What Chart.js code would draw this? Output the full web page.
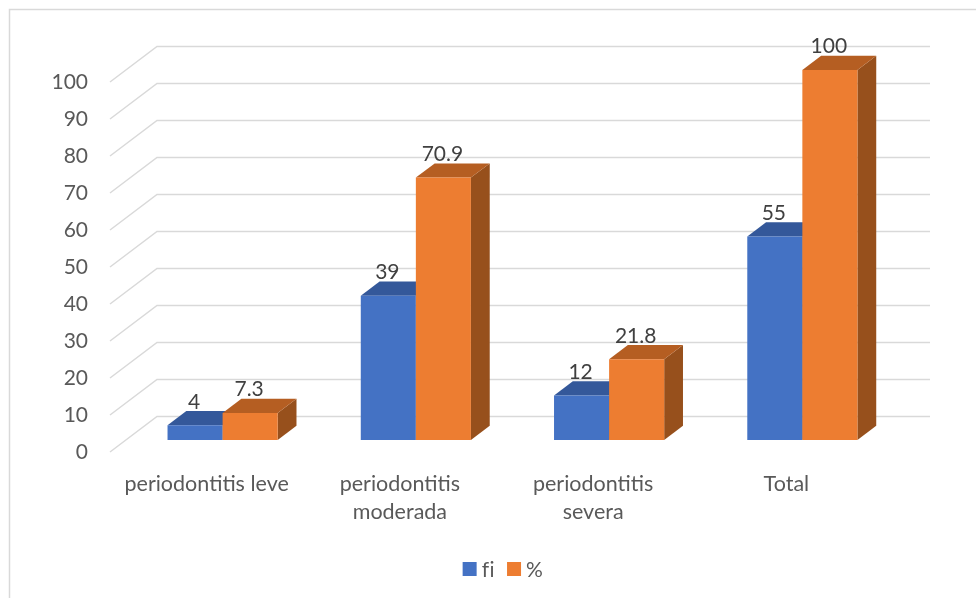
<!DOCTYPE html>
<html>
<head>
<meta charset="utf-8">
<script src="https://cdn.jsdelivr.net/npm/chart.js@4/dist/chart.umd.min.js"></script>
<style>
  html, body { margin: 0; padding: 0; background: #ffffff; }
  #wrap { width: 976px; height: 598px; }
</style>
</head>
<body>
<div id="wrap"><canvas id="c" width="976" height="598"></canvas></div>
<script>
// Categories and series
const categories = [
  'periodontitis leve',
  ['periodontitis', 'moderada'],
  ['periodontitis', 'severa'],
  'Total'
];
const seriesNames = ['fi', '%'];
const fiValues = [4, 39, 12, 55];
const pctValues = [7.3, 70.9, 21.8, 100];
const yTicks = [0, 10, 20, 30, 40, 50, 60, 70, 80, 90, 100];

// Face colours for the 3D columns: front, top, right side
const faceColors = [
  { front: '#4472C4', top: '#34589A', side: '#2C4B84' },
  { front: '#ED7D31', top: '#B55E22', side: '#97501C' }
];

const FONT = 'Lato, "Open Sans", sans-serif';
const TEXT_COLOR = '#595959';
const GRID_COLOR = '#D9D9D9';

// Oblique projection of the floor depth
const DEPTH_DX = 47;
const DEPTH_DY = 35.5;
const BAR_D0 = 0.34;   // front of columns, as a share of floor depth
const BAR_D1 = 0.74;   // back of columns

function proj(x, y, d) {
  return [x + d * DEPTH_DX, y - d * DEPTH_DY];
}

function poly(ctx, pts, color) {
  ctx.beginPath();
  ctx.moveTo(pts[0][0], pts[0][1]);
  for (let i = 1; i < pts.length; i++) ctx.lineTo(pts[i][0], pts[i][1]);
  ctx.closePath();
  ctx.fillStyle = color;
  ctx.fill();
}

const frame3d = {
  id: 'frame3d',
  beforeDraw(chart) {
    const ctx = chart.ctx;
    ctx.save();
    ctx.strokeStyle = GRID_COLOR;
    ctx.lineWidth = 1.5;
    ctx.beginPath();
    ctx.moveTo(9.5, 598);
    ctx.lineTo(9.5, 9.5);
    ctx.lineTo(976, 9.5);
    ctx.stroke();
    ctx.restore();
  },
  beforeDatasetsDraw(chart) {
    // back wall lines and slanted side-wall lines at every tick
    const ctx = chart.ctx;
    const area = chart.chartArea;
    const y = chart.scales.y;
    ctx.save();
    ctx.strokeStyle = GRID_COLOR;
    ctx.lineWidth = 1.5;
    y.ticks.forEach(t => {
      const py = y.getPixelForValue(t.value);
      const back = proj(area.left, py, 1);
      const backR = proj(area.right, py, 1);
      ctx.beginPath();
      ctx.moveTo(area.left, py);
      ctx.lineTo(back[0], back[1]);
      ctx.lineTo(backR[0], backR[1]);
      ctx.stroke();
    });
    ctx.restore();
  },
  afterDatasetsDraw(chart) {
    const ctx = chart.ctx;
    ctx.save();
    const metas = chart.data.datasets.map((ds, i) => chart.getDatasetMeta(i));
    const n = chart.data.labels.length;
    for (let k = 0; k < n; k++) {
      metas.forEach((meta, i) => {
        const bar = meta.data[k];
        const col = faceColors[i];
        const { x, y, base, width } = bar.getProps(['x', 'y', 'base', 'width'], true);
        const l = x - width / 2, r = x + width / 2;
        const fTL = proj(l, y, BAR_D0), fTR = proj(r, y, BAR_D0);
        const fBL = proj(l, base, BAR_D0), fBR = proj(r, base, BAR_D0);
        const bTL = proj(l, y, BAR_D1), bTR = proj(r, y, BAR_D1);
        const bBR = proj(r, base, BAR_D1);
        poly(ctx, [fTR, bTR, bBR, fBR], col.side);
        poly(ctx, [fTL, fTR, bTR, bTL], col.top);
        poly(ctx, [fTL, fTR, fBR, fBL], col.front);
      });
    }
    // value labels above each column
    ctx.fillStyle = '#404040';
    ctx.font = '21px ' + FONT;
    ctx.textAlign = 'center';
    ctx.textBaseline = 'middle';
    metas.forEach((meta, i) => {
      const values = chart.data.datasets[i].data;
      meta.data.forEach((bar, k) => {
        const { x, y } = bar.getProps(['x', 'y'], true);
        const cx = x + BAR_D0 * DEPTH_DX - 1;
        const top = proj(x, y, BAR_D1)[1];
        ctx.fillText(String(values[k]), cx, top - 9);
      });
    });
    ctx.restore();
  },
  afterDraw(chart) {
    // legend row under the axis labels
    const ctx = chart.ctx;
    ctx.save();
    ctx.font = '21px ' + FONT;
    ctx.letterSpacing = '0.5px';
    ctx.textBaseline = 'middle';
    ctx.textAlign = 'left';
    const box = 14, gap = 5, itemGap = 12, cy = 569;
    const items = chart.data.datasets.map((ds, i) => ({
      label: ds.label, color: faceColors[i].front, w: ctx.measureText(ds.label).width
    }));
    const total = items.reduce((s, it) => s + box + gap + it.w, 0) + itemGap * (items.length - 1);
    let x = 503 - total / 2;
    items.forEach(it => {
      ctx.fillStyle = it.color;
      ctx.fillRect(x, cy - box / 2, box, box);
      x += box + gap;
      ctx.fillStyle = TEXT_COLOR;
      ctx.fillText(it.label, x, cy + 1);
      x += it.w + itemGap;
    });
    ctx.restore();
  }
};

new Chart(document.getElementById('c'), {
  type: 'bar',
  data: {
    labels: categories,
    datasets: [
      { label: seriesNames[0], data: fiValues, backgroundColor: 'rgba(0,0,0,0)' },
      { label: seriesNames[1], data: pctValues, backgroundColor: 'rgba(0,0,0,0)' }
    ]
  },
  options: {
    responsive: false,
    animation: false,
    devicePixelRatio: 1,
    layout: { padding: { left: 0, top: 82, right: 93, bottom: 0 } },
    plugins: { legend: { display: false }, tooltip: { enabled: false } },
    datasets: { bar: { categoryPercentage: 0.57, barPercentage: 1.0 } },
    scales: {
      x: {
        grid: { display: false, drawTicks: false },
        border: { display: false },
        ticks: {
          color: TEXT_COLOR,
          font: { family: FONT, size: 21.5, lineHeight: 1.3 },
          padding: 18,
          maxRotation: 0,
          autoSkip: false
        },
        afterFit(scale) { scale.height = 146; }
      },
      y: {
        min: 0,
        max: 100,
        afterBuildTicks(scale) { scale.ticks = yTicks.map(v => ({ value: v })); },
        grid: { display: false, drawTicks: false },
        border: { display: false },
        ticks: {
          color: TEXT_COLOR,
          font: { family: FONT, size: 21 },
          padding: 22
        },
        afterFit(scale) { scale.width = 110; }
      }
    }
  },
  plugins: [frame3d]
});
</script>
</body>
</html>
